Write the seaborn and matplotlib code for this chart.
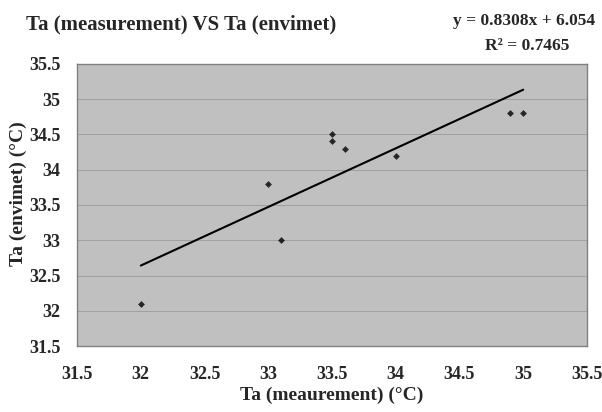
import matplotlib
matplotlib.use("Agg")
import matplotlib.pyplot as plt
import seaborn as sns
import numpy as np
import pandas as pd

ta_measurement = [32.0, 33.0, 33.1, 33.5, 33.5, 33.6, 34.0, 34.9, 35.0]
ta_envimet = [32.1, 33.8, 33.0, 34.5, 34.4, 34.3, 34.2, 34.8, 34.8]
tick_values = [31.5, 32, 32.5, 33, 33.5, 34, 34.5, 35, 35.5]
tick_labels = ["31.5", "32", "32.5", "33", "33.5", "34", "34.5", "35", "35.5"]

df = pd.DataFrame({"x": ta_measurement, "y": ta_envimet})

sns.set_style("white")
plt.rcParams["font.family"] = ["Liberation Serif", "DejaVu Serif"]
plt.rcParams["font.weight"] = "bold"

fig = plt.figure(figsize=(6.02, 4.12), dpi=100)
ax = fig.add_axes([0.128, 0.160, 0.847, 0.685])
ax.set_facecolor("#c0c0c0")

sns.regplot(data=df, x="x", y="y", ax=ax, ci=None, marker="D",
            scatter_kws={"s": 12, "color": "black", "linewidths": 0, "zorder": 3},
            line_kws={"color": "black", "lw": 1.5, "zorder": 2})

ax.set_xlim(31.5, 35.5)
ax.set_ylim(31.5, 35.5)
ax.set_xticks(tick_values)
ax.set_xticklabels(tick_labels)
ax.set_yticks(tick_values)
ax.set_yticklabels(tick_labels)
ax.yaxis.grid(True, color="#a0a0a0", lw=0.7)
ax.xaxis.grid(False)
ax.set_axisbelow(True)
for s in ax.spines.values():
    s.set_color("#808080")
    s.set_linewidth(1.0)
ax.tick_params(axis="x", direction="in", length=4, color="#909090", pad=14,
               labelsize=13)
ax.tick_params(axis="y", length=0, pad=12, labelsize=13)
for lab in ax.get_xticklabels() + ax.get_yticklabels():
    lab.set_fontweight("bold")

ax.set_xlabel("Ta (meaurement) (°C)", fontsize=14, fontweight="bold", labelpad=3)
ax.set_ylabel("Ta (envimet) (°C)", fontsize=14, fontweight="bold")
ax.yaxis.set_label_coords(-0.098, 0.539)

fig.text(0.043, 0.94, "Ta (measurement) VS Ta (envimet)", fontsize=15,
         fontweight="bold", ha="left", va="center")

slope, intercept = np.polyfit(ta_measurement, ta_envimet, 1)
r2 = np.corrcoef(ta_measurement, ta_envimet)[0, 1] ** 2
fig.text(0.988, 0.949, f"y = {slope:.4f}x + {intercept:.3f}", fontsize=12.5,
         fontweight="bold", ha="right", va="center")
fig.text(0.945, 0.888, f"R\u00b2 = {r2:.4f}", fontsize=12.5,
         fontweight="bold", ha="right", va="center")

fig.savefig("out.png", dpi=100)
